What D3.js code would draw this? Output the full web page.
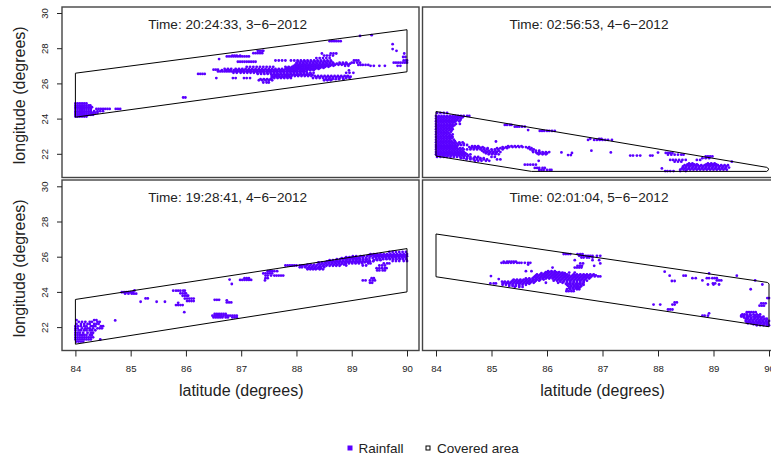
<!DOCTYPE html>
<html>
<head>
<meta charset="utf-8">
<script src="https://cdn.jsdelivr.net/npm/d3@7"></script>
<style>
body { margin: 0; background: #fff; }
svg { display: block; }
text { font-family: "Liberation Sans", Arial, sans-serif; fill: #222; }
</style>
</head>
<body>
<div id="chart"></div>
<script>
var width = 771, height = 457;

var latTicks = [84, 85, 86, 87, 88, 89, 90];
var lonTicks = [22, 24, 26, 28, 30];
var titles = ["Time: 20:24:33, 3\u22126\u22122012", "Time: 02:56:53, 4\u22126\u22122012",
              "Time: 19:28:41, 4\u22126\u22122012", "Time: 02:01:04, 5\u22126\u22122012"];

// covered area outlines, [latitude, longitude]
var areaA = [[84,26.58],[90,29.05],[90,26.66],[84,24.08]];
var areaB = [[84,24.4],[89.96,21.23],[90,21.12],[89.96,21.0],[85.72,21.0],[84,21.87]];
var areaC = [[84,23.57],[90,26.46],[90,24.0],[84,21.03]];
var areaD = [[84,27.29],[89.97,24.54],[90,24.46],[90,22.02],[84,24.86]];

// rainfall cells, each row is [longitude, [latitudes]]
var rainA = [
  [24.12,[84,84.04,84.08,84.12,84.16,84.2]],
  [24.22,[84,84.04,84.08,84.12,84.16,84.2,84.24,84.28,84.32]],
  [24.32,[84,84.04,84.08,84.12,84.16,84.2,84.24,84.28,84.32,84.36,84.4]],
  [24.42,[84,84.04,84.08,84.12,84.16,84.2,84.24,84.28,84.34,84.4,84.45,84.5]],
  [24.55,[84,84.04,84.08,84.12,84.16,84.2,84.24,84.28,84.38,84.42,84.46,84.5,84.54,84.58,84.62,84.73,84.77,84.81]],
  [24.65,[84,84.04,84.08,84.12,84.16,84.2,84.24,84.28,84.3]],
  [24.75,[84,84.04,84.08,84.12,84.16,84.2,84.24,84.27]],
  [24.86,[84,84.04,84.08,84.12,84.16,84.2]],
  [25.2,[85.95,85.99]],
  [26.54,[86.22,86.26,86.3,86.34]],
  [26.78,[86.5,86.54,86.58]],
  [26.68,[86.58,86.62,86.66,86.7,86.74,86.78,86.82,86.86,86.9,86.94,86.98,87.02,87.06,87.1,87.14,87.18,87.22,87.26,87.3,87.34,87.38,87.42,87.46,87.5,87.54,87.58,87.62,87.66,87.7,87.74,87.78,87.82,87.86,87.9,87.94,87.98,88.02,88.06,88.1,88.14,88.18]],
  [26.82,[86.7,86.76,86.82,86.9,86.96,87.02,87.08,87.14,87.2,87.26,87.32,87.38,87.44,87.5,87.56,87.62,87.68,87.74,87.8,87.86,87.92,87.98,88.04,88.1,88.16,88.22,88.28,88.34,88.4]],
  [26.75,[86.65,86.73,86.79,86.87,86.93,86.99,87.05,87.11,87.17,87.23,87.29,87.35,87.41,87.47,87.53,87.59,87.65,87.71,87.77,87.83,87.89,87.95,88.01,88.07,88.13,88.19,88.25,88.31]],
  [26.6,[86.86,86.92,86.99,87.05,87.11,87.17,87.23,87.29,87.35,87.41,87.47,87.53,87.59,87.65,87.71,87.77,87.83,87.89,87.95,88.01,88.07,88.13,88.19,88.25,88.31]],
  [26.94,[87.1,87.16,87.22,87.28,87.34,87.4,87.46,87.52,87.58,87.8,87.86,87.92,87.98,88.04,88.1,88.16,88.22,88.28,88.34,88.4,88.46,88.52,88.58]],
  [26.88,[87.83,87.89,87.95,88.01,88.07,88.13,88.19,88.25,88.31,88.37,88.43,88.49]],
  [27.06,[87.98,88.04,88.1,88.16,88.22,88.28,88.34,88.4,88.46,88.52,88.58,88.64,88.7,88.76,88.82,88.88,88.94]],
  [27.0,[87.95,88.01,88.07,88.13,88.19,88.25,88.31,88.37,88.43,88.49,88.55,88.61,88.67]],
  [27.12,[88.01,88.07,88.13,88.19,88.25,88.31,88.37,88.43,88.49,88.55,88.61,88.67,88.73,88.79,88.85,88.91,88.97]],
  [27.18,[88,88.06,88.12,88.18,88.24,88.3,88.36,88.42,88.48,88.54,88.6,88.66,88.78,88.84,88.9]],
  [27.25,[88.03,88.09,88.15,88.21,88.27,88.33,88.39,88.45,88.51,88.57,88.63]],
  [27.3,[87.62,87.68,87.74,87.8,87.9,87.96,88.02,88.08,88.14,88.2,88.26,88.32,88.38,88.44,88.5,88.56,88.62]],
  [27.44,[88.36,88.42,88.48,88.54,88.6]],
  [27.58,[88.5,88.55,88.6,88.66]],
  [27.7,[88.46,88.62,88.67,88.72]],
  [26.54,[87.3,87.36,87.42,87.48,87.54,87.6,87.66,87.72,87.78,87.84,87.9,87.96,88.02,88.08,88.14,88.2,88.26]],
  [26.48,[87.57,87.63,87.69,87.75,87.81,87.87,87.93,87.99,88.05,88.11,88.17,88.23,88.29]],
  [26.42,[87.55,87.61,87.67,87.73,87.79,87.85,87.91,87.97,88.03,88.09,88.15,88.21,88.27,88.33,88.39,88.45,88.51,88.57,88.63,88.69,88.75,88.81,88.87,88.93]],
  [26.36,[87.58,87.64,87.7,87.76,87.82,87.88,88.36,88.42,88.48,88.54,88.6,88.66,88.72,88.78,88.84,88.9,88.96]],
  [26.3,[87.55,87.6,87.66,87.72,87.78,87.84,87.9,88.3,88.36,88.42,88.48,88.54,88.6,88.66,88.72,88.78,88.84,88.9,88.96]],
  [26.24,[87.35,87.41,87.47,87.53,88.53,88.59,88.65,88.71,88.77,88.85]],
  [26.18,[87.32,87.38,87.44,87.5,87.56,88.5,88.56,88.62]],
  [26.05,[87.4,87.46,87.5]],
  [26.3,[87.05,87.1,86.9,86.85,86.55,87.16]],
  [27.53,[86.74,86.78,86.82,86.86,86.9,86.94,86.98,87.02,87.06,87.1,87.14]],
  [27.58,[86.84,86.88,86.92,86.98]],
  [27.23,[86.94,86.98,87.02,87.06,87.1,87.14,87.18,87.22,87.26]],
  [27.38,[86.6]],
  [27.72,[87.22,87.26,87.3,87.34,87.38]],
  [27.85,[87.3,87.34,87.38,87.4]],
  [28.4,[88.6,88.64,88.68,88.72,88.76,88.8]],
  [28.7,[89.15]],
  [28.74,[89.36]],
  [26.6,[88.9,88.96,89.03]],
  [26.38,[88.9,88.98]],
  [26.74,[88.95]],
  [27.0,[88.88,88.94,89.34,89.4,89.5,89.6]],
  [27.3,[89.04,89.08,89.12]],
  [27.18,[89.0,89.04,89.1,89.15]],
  [27.05,[89.12,89.16,89.2,89.25,89.3]],
  [28.23,[89.74]],
  [27.95,[89.74]],
  [27.85,[89.81]],
  [27.7,[89.95]],
  [27.5,[89.93,89.97]],
  [27.3,[89.94,89.98,90]],
  [27.18,[89.76,89.8,89.84,89.88,89.92,89.96,90]],
  [27.0,[89.83,89.88]]
];
var rainB = [
  [24.32,[84.02,84.08,84.14,84.2]],
  [24.15,[84,84.05,84.1,84.15,84.2,84.25,84.3,84.35,84.4,84.45,84.5,84.56,84.6]],
  [24.08,[84.03,84.08,84.13,84.18,84.23,84.28,84.33,84.38,84.43,84.48]],
  [24.0,[84,84.05,84.1,84.15,84.2,84.25,84.3,84.35,84.4,84.45]],
  [23.92,[84.03,84.08,84.13,84.18,84.23,84.28,84.33,84.38,84.44]],
  [23.85,[84,84.05,84.1,84.15,84.2,84.25,84.3,84.35,84.42]],
  [23.78,[84.03,84.08,84.13,84.18,84.23,84.28,84.33]],
  [23.7,[84,84.05,84.1,84.15,84.2,84.25,84.3,84.36,84.43]],
  [23.62,[84.03,84.08,84.13,84.18,84.23,84.28,84.33]],
  [23.55,[84,84.05,84.1,84.15,84.2,84.25,84.3]],
  [23.48,[84.03,84.08,84.13,84.18,84.23,84.28]],
  [23.4,[84,84.05,84.1,84.15,84.2,84.25,84.3]],
  [23.32,[84.03,84.08,84.13,84.18,84.23,84.28]],
  [23.25,[84,84.05,84.1,84.15,84.2,84.27]],
  [23.18,[84.03,84.08,84.13,84.18,84.23]],
  [23.1,[84,84.05,84.1,84.15,84.2,84.25,84.3]],
  [23.02,[84.03,84.08,84.13,84.18,84.23,84.28]],
  [22.95,[84,84.05,84.1,84.15,84.2,84.25,84.3]],
  [22.88,[84.03,84.08,84.13,84.18,84.23,84.28]],
  [22.8,[84,84.05,84.1,84.15,84.2,84.25,84.32]],
  [22.72,[84.03,84.08,84.13,84.18,84.23,84.28,84.34]],
  [22.65,[84,84.05,84.1,84.15,84.2,84.25,84.3,84.35,84.42,84.48]],
  [22.58,[84.03,84.08,84.13,84.18,84.23,84.28,84.33,84.38,84.43,84.5]],
  [22.5,[84,84.05,84.1,84.15,84.2,84.25,84.3,84.35,84.4,84.45,84.5,84.56]],
  [22.44,[84.03,84.08,84.13,84.18,84.23,84.28,84.33,84.38,84.65,84.7,84.76,85.3,85.36,85.42,85.48,85.54]],
  [22.38,[84,84.05,84.1,84.15,84.2,84.25,84.3,84.35,84.6,84.66,84.72,84.78,84.84,85.2,85.26,85.32,85.38,85.44,85.5,85.56,85.62,85.68]],
  [22.32,[84.03,84.08,84.13,84.18,84.23,84.28,84.33,84.38,84.43,84.48,84.63,84.69,84.75,84.81,84.87,84.93,85.1,85.16,85.22,85.28,85.66,85.72]],
  [22.25,[84,84.05,84.1,84.15,84.2,84.25,84.3,84.35,84.4,84.45,84.5,84.56,84.62,84.68,84.74,84.8,84.86,84.92,85.0,85.06,85.12,85.2,85.7,85.76]],
  [22.18,[84.03,84.08,84.13,84.18,84.23,84.28,84.33,84.38,84.43,84.48,84.83,84.89,84.95,85.01,85.07,85.13,85.74,85.8,85.86]],
  [22.1,[84,84.05,84.1,84.15,84.2,84.25,84.3,84.35,84.4,84.45,84.5,84.86,84.92,84.98,85.04,85.1,85.16,85.75,85.8,85.86,85.92,85.98,86.04]],
  [22.03,[84.03,84.08,84.13,84.18,84.23,84.28,84.33,84.38,84.43,84.48,84.53,84.9,84.96,85.02,85.08,85.82,85.88,85.94,86]],
  [21.97,[84,84.05,84.1,84.15,84.2,84.25,84.3,84.35,84.4,84.45,84.5,84.56,84.62,84.95,85.01,85.07,85.13,85.85,85.92,85.98]],
  [21.9,[84.02,84.07,84.12,84.17,84.22,84.27,84.32,84.37,84.42,84.47,84.52,84.58]],
  [21.82,[84.02,84.08,84.14,84.2,84.26,84.32,84.38,84.44,84.5,84.56,84.62,84.7,84.76,85.0,85.06]],
  [21.75,[84.45,84.5,84.56,84.62,84.68,84.74,84.8,84.86]],
  [21.68,[84.55,84.62,84.68,84.74,84.8,84.86,84.92,85.1,85.16]],
  [21.6,[84.7,84.76,84.82,84.9,84.96,85.85]],
  [23.64,[85.24,85.28,85.33,85.36]],
  [23.54,[85.42,85.46,85.5,85.55,85.6]],
  [23.35,[85.66]],
  [23.3,[85.87,85.91,85.95,86.0,86.04,86.09,86.14]],
  [22.79,[86.74,86.85,86.9,86.95,87.0,87.05,87.1,87.17]],
  [22.85,[86.78,86.94,86.98]],
  [22.7,[85.08]],
  [22.08,[86.26,87.15]],
  [21.93,[86.38,86.43]],
  [22.05,[86.45]],
  [22.18,[86.8]],
  [21.9,[87.5,87.55,87.62,87.68,87.86,87.9]],
  [22.07,[88.0]],
  [22.05,[88.14,88.18,88.22,88.26]],
  [21.95,[88.18,88.24,88.3,88.36,88.42,88.46]],
  [21.85,[88.86,88.9,88.94,88.98]],
  [21.75,[88.8,88.86,88.92]],
  [21.65,[88.22,88.27,88.32,88.38,88.44,88.5,88.7,88.76]],
  [21.55,[88.3,88.36,88.42,89.33]],
  [21.45,[88.56,88.62,88.9,88.96,89.02]],
  [21.4,[88.53,88.59,88.65,88.7,88.87,88.93,88.99,89.05]],
  [21.35,[88.48,88.54,88.6,88.66,88.72,88.78,88.84,88.9,88.96,89.02,89.08,89.14,89.2,89.26]],
  [21.28,[88.45,88.51,88.57,88.63,88.69,88.75,88.81,88.87,88.93,88.99,89.05,89.11,89.17,89.23]],
  [21.22,[88.45,88.5,88.56,88.62,88.68,88.74,88.8,88.86,88.92,88.98,89.04,89.1,89.16,89.22,89.28]],
  [21.16,[88.43,88.49,88.55,88.61,88.67,88.73,88.79,88.85,88.91,88.97,89.03,89.09,89.15,89.21]],
  [21.1,[88.4,88.46,88.52,88.58,88.64,88.7,88.76,88.82,88.88,88.94,89,89.06,89.12,89.18,89.24]],
  [21.17,[88.07]],
  [21.02,[88.13,88.17,88.22,88.28,88.4,88.5]],
  [21.38,[85.6,85.65,85.7,85.75,85.8]],
  [21.2,[85.78,85.82,85.86,85.92,85.96]],
  [21.08,[85.86,85.9,85.94,86,86.05,86.08]]
];
var rainC = [
  [22.4,[84.02,84.34,84.38]],
  [22.3,[84.06,84.12,84.18,84.26,84.3,84.4,84.44]],
  [22.18,[84.02,84.1,84.16,84.22,84.26,84.34,84.38,84.42]],
  [22.05,[84,84.05,84.1,84.16,84.2,84.28,84.32,84.36,84.46,84.5]],
  [21.93,[84,84.04,84.12,84.18,84.22,84.26,84.32,84.4,84.44,84.48]],
  [21.82,[84,84.06,84.1,84.16,84.2,84.26,84.3,84.36]],
  [21.68,[84,84.04,84.08,84.14,84.22,84.28,84.32]],
  [21.55,[84,84.04,84.08,84.12,84.16,84.2,84.26,84.3]],
  [21.42,[84,84.04,84.08,84.12,84.16,84.2,84.24,84.28,84.32]],
  [21.3,[84,84.04,84.08,84.12,84.16,84.2,84.24,84.28,84.45]],
  [21.18,[84.02,84.06,84.1,84.14]],
  [22.38,[84.72]],
  [23.98,[84.84,84.88,84.92,84.96,85,85.04]],
  [23.9,[84.9,84.96,85.02,85.06,85.1]],
  [24.08,[85.07]],
  [23.44,[85.18,85.47,85.62]],
  [23.63,[85.27,85.31]],
  [24.07,[85.77,85.82,85.86,85.9,85.95,85.98]],
  [23.92,[85.9,85.94,85.98,86.0]],
  [23.78,[85.94,85.98,86.02,86.04]],
  [23.62,[85.98,86.02,86.06,86.1,86.14]],
  [23.48,[86.02,86.06,86.1,86.14]],
  [23.25,[85.82,85.86,85.9,85.94]],
  [23.38,[85.86]],
  [22.85,[85.97]],
  [23.55,[86.52,86.56,86.6]],
  [23.52,[86.74]],
  [23.4,[86.74,86.78,86.82]],
  [22.75,[86.52,86.56,86.6,86.64,86.68,86.72]],
  [22.65,[86.48,86.52,86.56,86.6,86.64,86.68,86.72,86.76,86.8,86.84,86.88,86.92]],
  [22.55,[86.5,86.54,86.58,86.62,86.66,86.72,86.76,86.84,86.88,86.92]],
  [24.7,[86.79]],
  [24.45,[86.83]],
  [24.78,[87.06,87.1,87.14]],
  [24.68,[86.98,87.02,87.06,87.1,87.14,87.18]],
  [25.18,[87.48,87.52,87.56,87.6,87.65]],
  [25.05,[87.4,87.44,87.48,87.52,87.56]],
  [24.93,[87.44,87.48,87.54,87.6,87.64,87.68,87.72,87.76]],
  [24.78,[87.44,87.48]],
  [24.65,[87.43]],
  [25.5,[87.8,87.84,87.88,87.92,87.96,88,88.06,88.1,88.14,88.18]],
  [25.4,[88.06,88.1,88.16,88.22,88.28,88.34,88.4,88.44,88.5]],
  [25.34,[88.2,88.26,88.32,88.38,88.44]],
  [25.28,[88.2,88.25,88.3,88.35,88.42,88.48]],
  [25.48,[88.24,88.3,88.36,88.42,88.48,88.54,88.6,88.66,88.72,88.78]],
  [25.55,[88.2,88.26,88.32,88.38,88.44,88.5,88.56,88.62,88.68,88.74,88.8,88.86]],
  [25.62,[88.41,88.47,88.53,88.59,88.65,88.71,88.77,88.83,88.89,88.95,89.01,89.07,89.13,89.19]],
  [25.68,[88.4,88.46,88.52,88.58,88.64,88.7,88.76,88.82,88.88,88.94,89,89.06,89.12,89.18,89.24,89.3]],
  [25.74,[88.55,88.61,88.67,88.73,88.79,88.85,88.91,88.97,89.03,89.09,89.15,89.21,89.27,89.33,89.39]],
  [25.8,[88.6,88.66,88.72,88.78,88.84,88.9,88.96,89.02,89.08,89.14,89.2,89.26,89.32,89.4,89.46,89.52]],
  [25.86,[88.73,88.79,88.85,88.91,88.97,89.03,89.09,89.15,89.21,89.27,89.45,89.51,89.57,89.63,89.69,89.75,89.81,89.87,89.93,89.99]],
  [25.92,[88.82,88.88,88.94,89,89.06,89.12,89.2,89.26,89.32,89.38,89.44,89.5,89.56,89.62,89.68,89.74,89.8,89.86,89.92,89.98]],
  [25.98,[88.9,88.96,89.02,89.08,89.14,89.2,89.43,89.49,89.55,89.61,89.67,89.73,89.79,89.85,89.91,89.97]],
  [26.03,[89.02,89.08,89.16,89.22,89.28,89.34,89.4,89.46,89.52,89.58,89.64,89.7,89.76,89.82,89.88,89.94,90]],
  [26.09,[89.31,89.37,89.43,89.49,89.55,89.61,89.67,89.73,89.79,89.85,89.91,89.97]],
  [26.15,[89.34,89.4,89.46,89.52,89.58,89.64,89.7,89.76,89.82,89.88,89.94,90]],
  [26.27,[89.68,89.74,89.8,89.86,89.92,89.98]],
  [25.75,[89.74,89.8,89.86,89.94,90]],
  [25.62,[89.3,89.34,89.58,89.64,89.68]],
  [25.5,[88.9,89.2,89.26,89.5,89.55,89.6]],
  [25.35,[89.45,89.5,89.55,89.6,89.63]],
  [25.22,[89.46,89.5,89.56,89.6]],
  [24.78,[89.36,89.4]],
  [24.65,[89.2,89.25,89.33,89.38,89.42]],
  [24.52,[89.33,89.37]]
];
var rainD = [
  [25.72,[85.22,85.28,85.32,85.36,85.4,85.44]],
  [25.65,[85.18,85.22,85.26,85.3,85.35,85.4,85.46,85.5,85.54,85.6,85.66,85.7]],
  [25.55,[85.66]],
  [26.15,[86.3,86.34,86.38,86.42,86.55,86.6,86.64]],
  [26.05,[86.58,86.62,86.66,86.7,86.74,86.78,86.82,86.9,86.96]],
  [25.95,[86.62,86.66,86.72,86.76,86.82]],
  [25.8,[86.5,86.94,86.82]],
  [25.62,[86.6,86.65,86.96]],
  [25.48,[86.55,86.59,86.63,86.85]],
  [25.38,[86.5,86.54,86.58,86.62,86.1]],
  [25.1,[86.2,86.28,86.4,86.5]],
  [25.18,[85.62,85.72,86.02,86.08,86.14]],
  [25.12,[85.98,86.04,86.1,86.16,86.22]],
  [25.06,[85.9,85.96,86.02,86.08,86.14,86.2,86.26,86.32]],
  [25,[85.82,85.88,85.94,86,86.06,86.12,86.18,86.24,86.3,86.36,86.48,86.54,86.6,86.66,86.72,86.78,86.84]],
  [24.94,[85.8,85.86,85.92,85.98,86.04,86.1,86.16,86.22,86.28,86.34,86.4,86.46,86.52,86.58,86.64,86.7,86.76,86.82,86.88]],
  [24.88,[85.78,85.84,85.9,85.96,86.02,86.08,86.14,86.2,86.26,86.32,86.38,86.44,86.5,86.56,86.62,86.68,86.74,86.8,86.86,86.92,86.96]],
  [24.82,[85.76,85.82,85.88,85.94,86,86.06,86.12,86.18,86.24,86.3,86.36,86.42,86.48,86.54,86.6,86.66,86.72,86.78]],
  [24.76,[85.62,85.68,85.74,85.8,85.86,85.92,85.98,86.04,86.1,86.16,86.22,86.28,86.34,86.4,86.46,86.52,86.58,86.64,86.7,86.76]],
  [24.7,[85.4,85.46,85.52,85.58,85.64,85.7,85.76,85.82,85.88,85.94,86.14,86.2,86.26,86.32,86.38,86.44,86.5,86.56,86.62,86.68]],
  [24.64,[85.38,85.44,85.5,85.56,85.62,85.68,85.74,85.8,85.86,86.12,86.18,86.24,86.3,86.36,86.42,86.48,86.54,86.6,86.66,86.72]],
  [24.58,[85.3,85.36,85.42,85.48,85.54,85.6,85.66,85.72,85.78,86.24,86.3,86.36,86.42,86.48,86.54,86.6,86.66]],
  [24.52,[85.22,85.28,85.34,85.4,85.46,85.52,85.58,85.64,85.7,85.76,85.98,86.2,86.28,86.36,86.42,86.48,86.54,86.6,86.66]],
  [24.46,[85.2,85.26,85.32,85.38,85.44,85.5,85.56,85.62,85.68,86.34,86.4,86.46,86.52,86.58,86.64]],
  [24.4,[85.2,85.26,85.32,85.38,85.44,85.5,85.56,85.62,86.36,86.42,86.48,86.54,86.6,86.66]],
  [24.34,[85.32,85.38,85.44,85.5,86.38,86.44,86.5,86.56,86.62]],
  [24.28,[85.42,85.5,85.56,86.42,86.48,86.54,86.6]],
  [24.22,[86.4,86.46,86.52,86.58]],
  [24.15,[86.36,86.42,86.48,86.54,86.58]],
  [24.04,[86.35,86.39,86.44,86.48]],
  [24.9,[84.99]],
  [24.73,[85.13]],
  [24.58,[85.19,85.24]],
  [24.48,[84.98,85.04,85.08]],
  [25.15,[88.12]],
  [24.92,[88.21,88.46,88.5,89.42]],
  [24.62,[88.25,88.3]],
  [24.78,[88.62,88.68,88.88,88.92,88.98,89.02,89.06]],
  [24.65,[88.8,89.06,89.1,89.14,89.75]],
  [24.42,[88.9,89,89.1,89.88]],
  [24.48,[88.99,89.03]],
  [25.05,[88.92]],
  [24.15,[89.67]],
  [23.65,[89.97,90]],
  [23.35,[89.86,89.9,89.94]],
  [23.22,[89.83,89.87,89.91]],
  [23.4,[88.3,88.34]],
  [23.28,[88.26,88.3,87.92,88.04]],
  [23.0,[88.18,88.22,88.26]],
  [22.65,[88.8,88.84,88.9]],
  [22.78,[88.92]],
  [22.85,[89.6,89.64,89.68,89.72,89.76]],
  [22.72,[89.52,89.56,89.6,89.66,89.72,89.78,89.84]],
  [22.66,[89.5,89.55,89.61,89.67,89.75,89.81]],
  [22.6,[89.5,89.54,89.6,89.64,89.72,89.78,89.84,89.9]],
  [22.54,[89.55,89.61,89.68,89.75,89.81,89.87]],
  [22.48,[89.58,89.62,89.68,89.74,89.8,89.86,89.92,89.96]],
  [22.42,[89.6,89.66,89.72,89.78,89.84,89.9,89.96]],
  [22.35,[89.58,89.64,89.7,89.76,89.82,89.88,89.94,90]],
  [22.28,[89.6,89.66,89.72,89.78,89.84,89.9,89.96]],
  [22.22,[89.62,89.68,89.74,89.8,89.86,89.92,89.98]],
  [22.16,[89.72,89.78,89.84,89.9,89.96]],
  [22.1,[89.78,89.84,89.9,89.96,90]]
];

var panels = [
  {title: titles[0], area: areaA, rain: rainA, left: 62, right: 419, top: 7, bottom: 177.5, xZero: 75.4, xEnd: 407, yTop: 13, showX: false, showY: true},
  {title: titles[1], area: areaB, rain: rainB, left: 422.5, right: 790, top: 7, bottom: 177.5, xZero: 436, xEnd: 769, yTop: 13, showX: false, showY: false},
  {title: titles[2], area: areaC, rain: rainC, left: 62, right: 419, top: 180, bottom: 350.5, xZero: 75.4, xEnd: 407, yTop: 186.3, showX: true, showY: true},
  {title: titles[3], area: areaD, rain: rainD, left: 422.5, right: 790, top: 180, bottom: 350.5, xZero: 436, xEnd: 769, yTop: 186.3, showX: true, showY: false}
];

var svg = d3.select("#chart").append("svg")
    .attr("width", width)
    .attr("height", height);

var rainColor = "#5a00ff";

panels.forEach(function(p, idx) {
  var x = d3.scaleLinear().domain([84, 90]).range([p.xZero, p.xEnd]);
  var y = d3.scaleLinear().domain([30, 22]).range([p.yTop, p.yTop + 140.8]);

  var cells = [];
  p.rain.forEach(function(row) {
    row[1].forEach(function(lat) { cells.push([lat, row[0]]); });
  });

  var g = svg.append("g");

  g.selectAll("circle")
    .data(cells)
    .enter().append("circle")
    .attr("cx", function(d){return x(d[0])})
    .attr("cy", function(d){return y(d[1])})
    .attr("r", 1.4)
    .attr("fill", rainColor);

  var line = d3.line()
    .x(function(d){return x(d[0])})
    .y(function(d){return y(d[1])})
    .curve(d3.curveLinearClosed);

  g.append("path")
    .attr("d", line(p.area))
    .attr("fill", "none")
    .attr("stroke", "#000")
    .attr("stroke-width", 1);

  g.append("rect")
    .attr("x", p.left)
    .attr("y", p.top)
    .attr("width", p.right - p.left)
    .attr("height", p.bottom - p.top)
    .attr("fill", "none")
    .attr("stroke", "#444")
    .attr("stroke-width", 1.4);

  g.append("text")
    .attr("x", (x(84) + x(90)) / 2 - 13.5)
    .attr("y", p.top + 22)
    .attr("text-anchor", "middle")
    .style("font-size", "13.6px")
    .text(p.title);

  if (p.showX) {
    var xAxis = g.append("g")
      .attr("transform", "translate(0," + p.bottom + ")")
      .call(d3.axisBottom(x).tickValues(latTicks).tickFormat(d3.format("d")).tickSizeOuter(0).tickSize(6).tickPadding(9));
    xAxis.select(".domain").remove();
    xAxis.selectAll("text").style("font-size", "9.6px").style("font-family", "Liberation Sans");
    xAxis.selectAll("line").attr("stroke", "#222");

    g.append("text")
      .attr("x", (x(84) + x(90)) / 2)
      .attr("y", 396)
      .attr("text-anchor", "middle")
      .style("font-size", "16px")
      .text("latitude (degrees)");
  }

  if (p.showY) {
    var yAxis = g.append("g")
      .attr("transform", "translate(" + p.left + ",0)")
      .call(d3.axisLeft(y).tickValues(lonTicks).tickFormat(d3.format("d")).tickSizeOuter(0).tickSize(5));
    yAxis.select(".domain").remove();
    yAxis.selectAll("line").attr("stroke", "#222");
    yAxis.selectAll("text")
      .style("font-size", "9.6px")
      .style("font-family", "Liberation Sans")
      .attr("text-anchor", "middle")
      .attr("dy", null)
      .attr("x", 0)
      .attr("y", 0)
      .attr("transform", "translate(-14,0) rotate(-90)");

    g.append("text")
      .attr("transform", "translate(25," + ((p.top + p.bottom) / 2 + 3) + ") rotate(-90)")
      .attr("text-anchor", "middle")
      .style("font-size", "16px")
      .text("longitude (degrees)");
  }
});

// legend
var legend = svg.append("g");
legend.append("rect")
  .attr("x", 347.5).attr("y", 445.5).attr("width", 5).attr("height", 5)
  .attr("fill", rainColor);
legend.append("text").attr("x", 358.5).attr("y", 453).style("font-size", "13.5px").text("Rainfall");
legend.append("rect")
  .attr("x", 426).attr("y", 446).attr("width", 4).attr("height", 4)
  .attr("fill", "#fff").attr("stroke", "#000").attr("stroke-width", 1);
legend.append("text").attr("x", 437).attr("y", 453).style("font-size", "13.5px").text("Covered area");
</script>
</body>
</html>
